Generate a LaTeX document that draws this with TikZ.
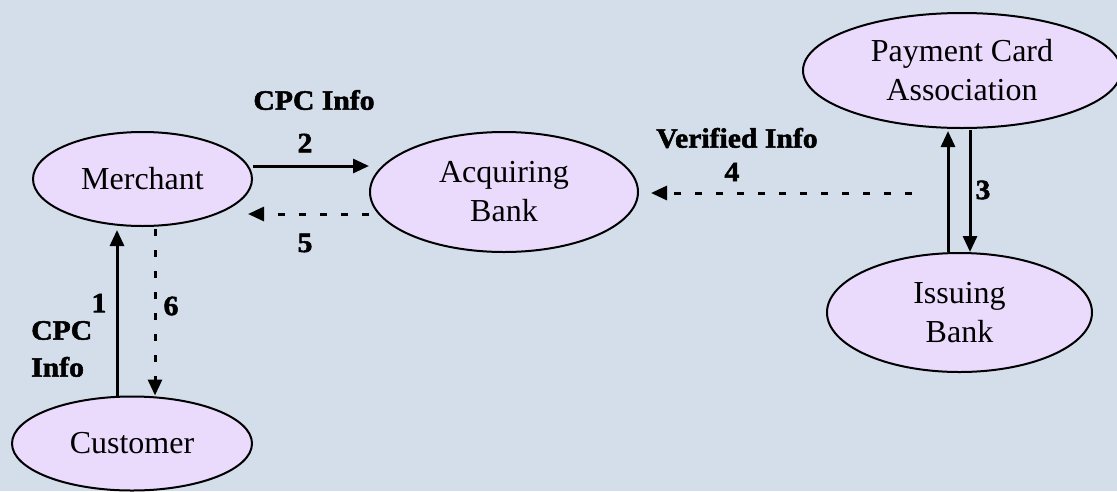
\documentclass[tikz,border=0pt]{standalone}
\usepackage{fontspec}
\setmainfont{Liberation Serif}
\newfontfamily\lblfont{Liberation Serif}[FakeStretch=1.06,FakeBold=1.8]
\usetikzlibrary{arrows.meta,shapes.geometric}

\definecolor{bgcol}{RGB}{212,222,234}
\definecolor{ellfill}{RGB}{234,218,252}

\begin{document}
\begin{tikzpicture}[x=1pt,y=-1pt,
  ent/.style={ellipse, draw=black, line width=2pt, fill=ellfill, inner sep=0pt,
    align=center, font=\fontsize{32}{39}\selectfont},
  flow/.style={line width=3pt, -{Triangle[length=16pt,width=14pt]}},
  reply/.style={flow, dash pattern=on 7pt off 14pt},
  lbl/.style={font=\lblfont\bfseries\fontsize{28}{37}\selectfont, inner sep=0pt, align=left}]

% background
\fill[bgcol] (0,0) rectangle (1117,491);
\useasboundingbox (0,0) rectangle (1117,491);

% parties
\node[ent, minimum width=219pt, minimum height=94pt]  (merchant) at (142.5,179)  {Merchant};
\node[ent, minimum width=268pt, minimum height=120pt] (acq)      at (504,192)    {Acquiring\\Bank};
\node[ent, minimum width=240pt, minimum height=94pt]  (customer) at (132,443.5)  {Customer};
\node[ent, minimum width=318pt, minimum height=115pt] (pca)      at (962,70.5)   {Payment Card\\Association};
\node[ent, minimum width=265pt, minimum height=119pt] (iss)      at (959.5,312.5){Issuing\\Bank};

% message flows
\draw[flow]  ([xshift=-15pt]customer.north) -- ([xshift=-25.5pt,yshift=-3pt]merchant.south);
\draw[reply] ([xshift=12.5pt,yshift=-2pt]merchant.south) -- ([xshift=23pt]customer.north);
\draw[flow]  ([yshift=13pt]merchant.east) coordinate (m2) -- (acq.west |- m2);
\draw[reply] ([yshift=-22pt]acq.west) coordinate (a5) -- ([xshift=-5pt]merchant.east |- a5);
\coordinate (v4) at (912,193);
\draw[reply] (v4) -- ([xshift=12pt]acq.east |- v4);
\draw[flow]  ([xshift=-11.5pt]iss.north) -- ([xshift=-14pt,yshift=-2pt]pca.south);
\draw[flow]  ([xshift=8pt,yshift=-1pt]pca.south) -- ([xshift=10.5pt]iss.north);

% labels
\node[lbl] (l2t) at (314,100) {CPC Info};
\node[lbl] (l2)  at (305,143) {2};
\node[lbl] (l5)  at (305,243) {5};
\node[lbl] (l4t) at (737,138) {Verified Info};
\node[lbl] (l4)  at (732,172) {4};
\node[lbl] (l3)  at (983,190) {3};
\node[lbl] (l1)  at (99,303)  {1};
\node[lbl, anchor=west] (l1t) at (31,349) {CPC\\Info};
\node[lbl] (l6)  at (171,306) {6};
\end{tikzpicture}
\end{document}
